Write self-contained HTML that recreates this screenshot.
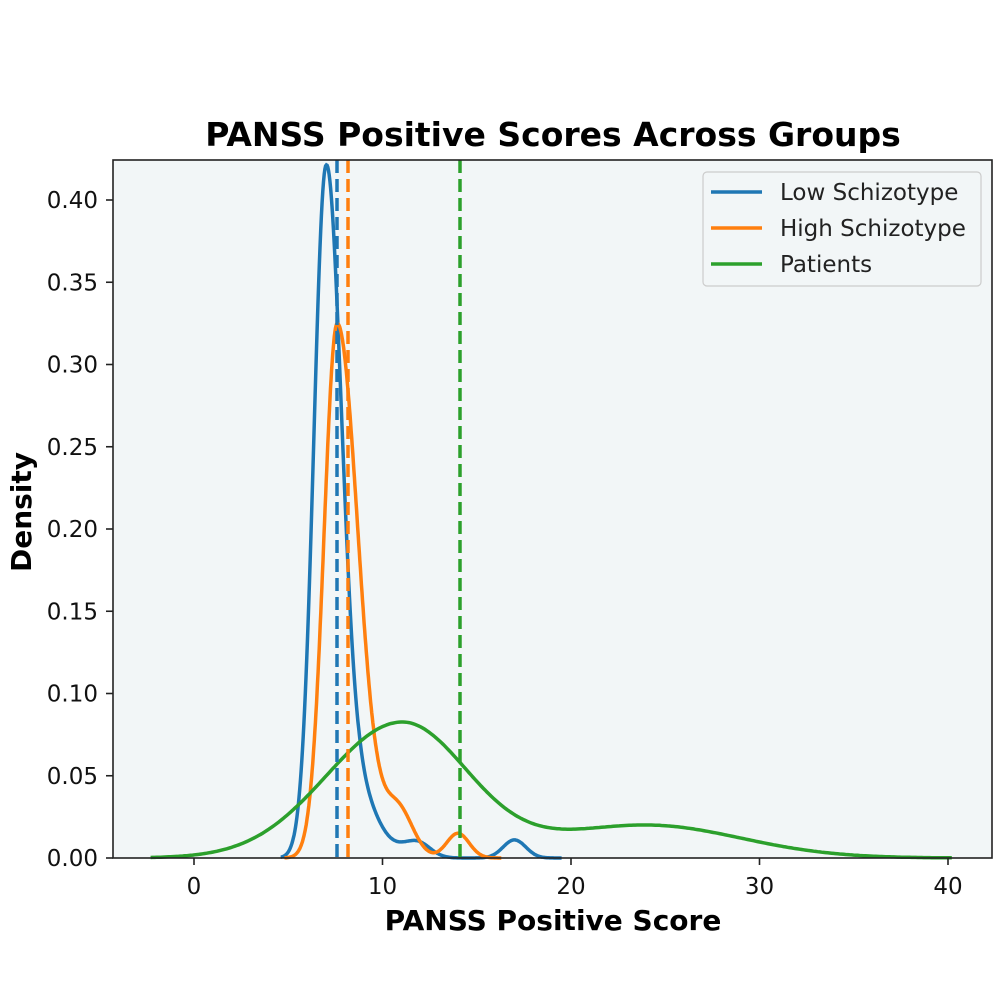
<!DOCTYPE html>
<html><head><meta charset="utf-8"><style>
html,body{margin:0;padding:0;background:#fff;width:1000px;height:1000px;overflow:hidden}
text{font-family:"DejaVu Sans","Liberation Sans",sans-serif}
</style></head><body>
<svg id="s" width="1000" height="1000" xmlns="http://www.w3.org/2000/svg">
<rect x="113" y="160" width="879" height="698" fill="#f2f6f7"/>
<g id="curves"></g>
<line x1="337" y1="160" x2="337" y2="858" stroke="#1f77b4" stroke-width="3.5" stroke-dasharray="13,6"/>
<line x1="348" y1="160" x2="348" y2="858" stroke="#ff7f0e" stroke-width="3.5" stroke-dasharray="13,6"/>
<line x1="460" y1="160" x2="460" y2="858" stroke="#2ca02c" stroke-width="3.5" stroke-dasharray="13,6"/>
<rect x="113" y="160" width="879" height="698" fill="none" stroke="#222" stroke-width="1.6"/>
<g id="ticks" stroke="#222" stroke-width="1.6"></g>
<g id="labels" font-size="23" fill="#111"></g>
<text x="553" y="146" font-size="33" font-weight="bold" text-anchor="middle">PANSS Positive Scores Across Groups</text>
<text x="553" y="930" font-size="28" font-weight="bold" text-anchor="middle">PANSS Positive Score</text>
<text transform="translate(31,512) rotate(-90)" font-size="28" font-weight="bold" text-anchor="middle">Density</text>
<rect x="703" y="172" width="278" height="114" rx="4" fill="#f2f6f7" stroke="#ccc" stroke-width="1.2"/>
<line x1="711" y1="192" x2="762" y2="192" stroke="#1f77b4" stroke-width="3.5"/>
<line x1="711" y1="228" x2="762" y2="228" stroke="#ff7f0e" stroke-width="3.5"/>
<line x1="711" y1="264" x2="762" y2="264" stroke="#2ca02c" stroke-width="3.5"/>
<text x="780" y="200" font-size="23" fill="#222">Low Schizotype</text>
<text x="780" y="236" font-size="23" fill="#222">High Schizotype</text>
<text x="780" y="272" font-size="23" fill="#222">Patients</text>
</svg>
<script>
var NS="http://www.w3.org/2000/svg";
function X(v){return 194+v*18.85;}
function Y(d){return 858-d*1645;}
function ag(x,m,a,sl,sr){var s=x<m?sl:sr;return a*Math.exp(-(x-m)*(x-m)/(2*s*s));}
var series=[
 ["#1f77b4",4.6,19.5,function(x){return ag(x,7.0,0.41,0.65,0.8)+ag(x,8.6,0.04,1.0,1.1)+ag(x,11.8,0.01,0.8,0.7)+ag(x,17,0.011,0.6,0.6);}],
 ["#ff7f0e",4.8,16.3,function(x){return ag(x,7.6,0.325,0.7,1.1)+ag(x,10.8,0.03,0.8,0.8)+ag(x,14,0.015,0.6,0.6);}],
 ["#2ca02c",-2.3,40.2,function(x){return ag(x,11,0.082,4,3.5)+ag(x,24,0.02,5,5);}]
];
var g=document.getElementById("curves");
series.forEach(function(s){var d="";for(var i=0;i<=400;i++){var x=s[1]+(s[2]-s[1])*i/400;d+=(i?"L":"M")+X(x).toFixed(1)+","+Y(s[3](x)).toFixed(1);}
var p=document.createElementNS(NS,"path");p.setAttribute("d",d);p.setAttribute("fill","none");p.setAttribute("stroke",s[0]);p.setAttribute("stroke-width","3.5");g.appendChild(p);});
var t=document.getElementById("ticks"),l=document.getElementById("labels");
function ln(a,b,c,d){var e=document.createElementNS(NS,"line");e.setAttribute("x1",a);e.setAttribute("y1",b);e.setAttribute("x2",c);e.setAttribute("y2",d);t.appendChild(e);}
function tx(x,y,s,anc){var e=document.createElementNS(NS,"text");e.setAttribute("x",x);e.setAttribute("y",y);e.setAttribute("text-anchor",anc);e.textContent=s;l.appendChild(e);}
for(var v=0;v<=40;v+=10){ln(X(v),858,X(v),865);tx(X(v),894,String(v),"middle");}
for(var k=0;k<=8;k++){var d=k*0.05,y=Y(d);ln(106,y,113,y);tx(98,y+8,d.toFixed(2),"end");}
</script>
</body></html>
